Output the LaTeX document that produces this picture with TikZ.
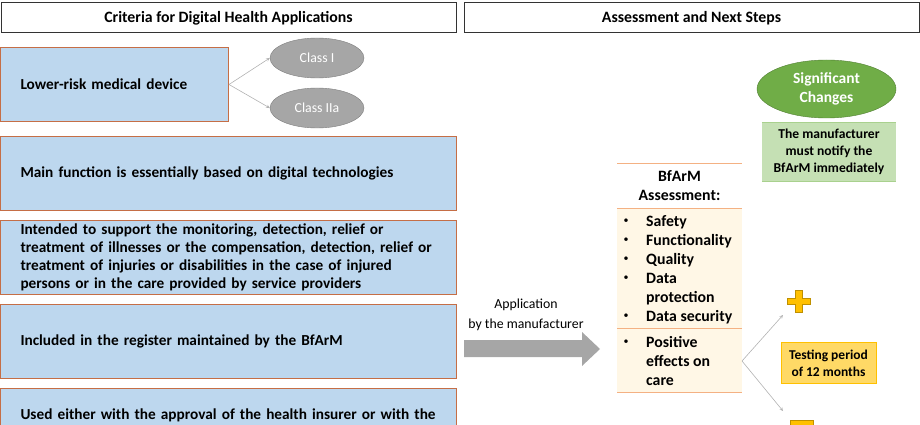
\documentclass[tikz,border=0pt]{standalone}
\usepackage{fontspec}
\setmainfont{Carlito}
\usetikzlibrary{positioning,shapes.geometric}
\definecolor{critblue}{HTML}{BDD7EE}
\definecolor{critedge}{RGB}{197,110,70}
\definecolor{classgray}{HTML}{A6A6A6}
\definecolor{classedge}{HTML}{7F7F7F}
\definecolor{bfarmline}{HTML}{F4B183}
\definecolor{bfarmfill}{HTML}{FFF7E6}
\definecolor{sigfill}{HTML}{70AD47}
\definecolor{sigedge}{HTML}{507E32}
\definecolor{notefill}{HTML}{C5E0B4}
\definecolor{noteline}{HTML}{A9D18E}
\definecolor{testfill}{HTML}{FFD966}
\definecolor{testedge}{HTML}{FFC000}
\definecolor{signedge}{HTML}{BF9000}
\begin{document}
\begin{tikzpicture}[x=1pt,y=-1pt,
 every node/.style={inner sep=0pt,font=\bfseries\fontsize{15.8}{18.2}\selectfont},
 headbox/.style={draw=black!80,line width=1pt,minimum width=455pt,minimum height=30pt},
 critbox/.style={draw=critedge,line width=1pt,fill=critblue,anchor=north west,align=left,inner xsep=20pt,minimum height=74pt,font=\bfseries\fontsize{15.3}{18.2}\selectfont},
 classnode/.style={ellipse,draw=classedge,fill=classgray,text=white,font=\fontsize{13.8}{15}\selectfont,minimum width=94pt,minimum height=40pt},
 thinarrow/.style={->,>=stealth,draw=gray!60,line width=0.6pt},
 bulletnode/.style={anchor=center,font=\fontsize{10}{10}\selectfont},
 itemnode/.style={anchor=base west}]
\useasboundingbox (0,0) rectangle (920,425);

% headers
\node[headbox] (critHead) at (228.5,18) {Criteria for Digital Health Applications};
\node[headbox] (nextHead) at (691.5,18) {Assessment and Next Steps};

% criteria
\node[critbox,text width=188pt] (lowRisk) at (0,47) {Lower-risk medical device};
\node[classnode] (classI) at (317,58) {Class I};
\node[classnode] (classIIa) at (317,108) {Class IIa};
\draw[thinarrow] (lowRisk.east) -- (classI.west);
\draw[thinarrow] (lowRisk.east) -- (classIIa.west);

\node[critbox,text width=416pt] (mainFunc) at (0,136) {Main function is essentially based on digital technologies};
\node[critbox,text width=416pt] (intended) at (0,220) {\mbox{Intended to support the monitoring, detection, relief or}\\
 \mbox{treatment of illnesses or the compensation, detection, relief or}\\
 \mbox{treatment of injuries or disabilities in the case of injured}\\
 \mbox{persons or in the care provided by service providers}};
\node[critbox,text width=416pt] (register) at (0,304) {Included in the register maintained by the BfArM};
\node[critbox,text width=416pt] (usedWith) at (0,388) {\mbox{Used either with the approval of the health insurer or with the}\\ \strut};

% application arrow
\node[font=\fontsize{13.8}{20}\selectfont,align=center] (appText) at (526,315) {Application\\by the manufacturer};
\fill[classgray] (464,340) -- (582,340) -- (582,332) -- (600,349) -- (582,366) -- (582,357) -- (464,357) -- cycle;

% BfArM assessment
\fill[bfarmfill] (617,208) rectangle (742,392);
\foreach \yy in {163,208,328,392}
 \draw[bfarmline,line width=1pt] (617,\yy) -- (742,\yy);
\node[align=center,font=\bfseries\fontsize{15.8}{19}\selectfont] (bfarmTitle) at (679.5,185.5) {BfArM\\Assessment:};
\foreach \yy in {221,240,259,278,316,342}
 \node[bulletnode] (dot\yy) at (626,\yy) {\textbullet};
\foreach \yy/\txt in {221/Safety,240/Functionality,259/Quality,278/Data,297/protection,316/Data security,342/Positive,361/effects on,380/care}
 \node[itemnode] (item\yy) at (646,\yy+5.5) {\txt};

% outcomes
\coordinate (split) at (742,361);
\coordinate (plusIn) at (783,315);
\coordinate (minusIn) at (783,411);
\draw[thinarrow] (split) -- (plusIn);
\draw[thinarrow] (split) -- (minusIn);
\filldraw[fill=testedge,draw=signedge,line width=0.6pt]
 (795,290) -- (802,290) -- (802,298) -- (810,298) -- (810,304) -- (802,304) -- (802,312) -- (795,312)
 -- (795,304) -- (787,304) -- (787,298) -- (795,298) -- cycle;
\filldraw[fill=testedge,draw=signedge,line width=0.6pt] (790,420) rectangle (813,430);
\node[draw=testedge,fill=testfill,minimum width=95pt,minimum height=41pt,align=center,font=\bfseries\fontsize{13.5}{17}\selectfont] (testing) at (828.5,363) {Testing period\\of 12 months};

% significant changes
\node[ellipse,draw=sigedge,fill=sigfill,text=white,minimum width=139pt,minimum height=58pt,align=center,font=\bfseries\fontsize{15.5}{19}\selectfont] (sigChange) at (826.5,89) {Significant\\Changes};
\node[fill=notefill,minimum width=134pt,minimum height=58pt,align=center,font=\bfseries\fontsize{13.6}{17}\selectfont] (notify) at (829,152) {The manufacturer\\must notify the\\BfArM immediately};
\draw[noteline,line width=1pt] (notify.north west) -- (notify.north east);
\draw[noteline,line width=1pt] (notify.south west) -- (notify.south east);
\end{tikzpicture}
\end{document}
